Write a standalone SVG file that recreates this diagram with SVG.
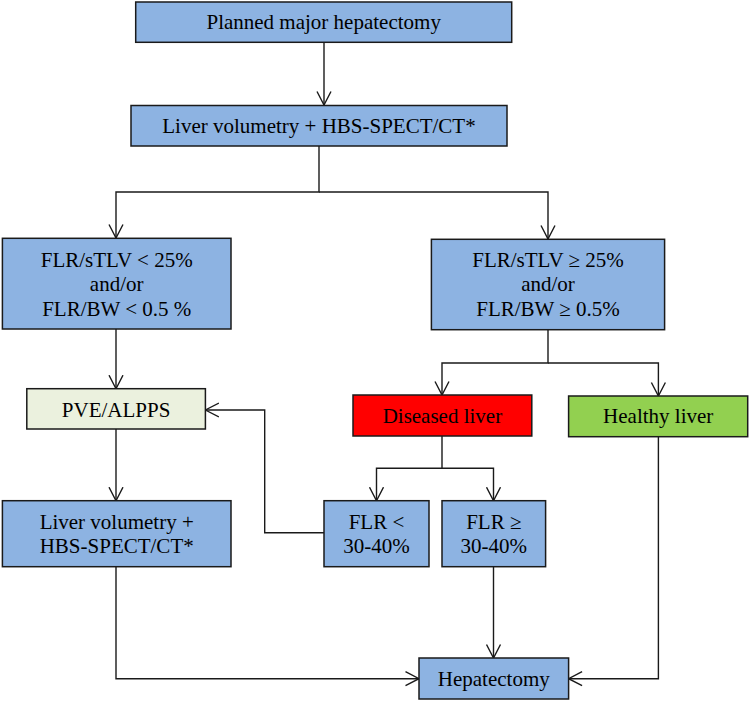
<svg xmlns="http://www.w3.org/2000/svg" width="749" height="701" viewBox="0 0 749 701">
<defs>
<style>
.box{stroke:#1a1a1a;stroke-width:1.5}
.blue{fill:#8DB3E2}
.pale{fill:#EBF1DE}
.red{fill:#FF0000}
.green{fill:#92D050}
text{font-family:"Liberation Serif","Times New Roman",serif;font-size:21px;fill:#000;text-anchor:middle}
.conn path{fill:none;stroke:#1a1a1a;stroke-width:1.4}
</style>
<marker id="arr" markerUnits="userSpaceOnUse" viewBox="0 0 15 16" refX="14" refY="8" markerWidth="15" markerHeight="16" orient="auto">
<path d="M0.5,1 L14,8 L0.5,15" fill="none" stroke="#1a1a1a" stroke-width="1.4"/>
</marker>
</defs>
<rect width="749" height="701" fill="#fff"/>
<g class="conn" id="connectors">
<path d="M324,42.3 V105" marker-end="url(#arr)"/>
<path d="M319,146 V192 H116 V238" marker-end="url(#arr)"/>
<path d="M319,192 H548 V239" marker-end="url(#arr)"/>
<path d="M116,329 V388.7" marker-end="url(#arr)"/>
<path d="M548,330 V363 H442 V395" marker-end="url(#arr)"/>
<path d="M548,363 H658.4 V396" marker-end="url(#arr)"/>
<path d="M116,429 V500.7" marker-end="url(#arr)"/>
<path d="M442,436 V468.3 H376.5 V500.7" marker-end="url(#arr)"/>
<path d="M442,468.3 H493.5 V500.7" marker-end="url(#arr)"/>
<path d="M324,532.7 H264.7 V410 H205.4" marker-end="url(#arr)"/>
<path d="M116,566.7 V678.7 H419" marker-end="url(#arr)"/>
<path d="M493.5,566.7 V658" marker-end="url(#arr)"/>
<path d="M658.4,436.7 V678.7 H568.6" marker-end="url(#arr)"/>
</g>
<g id="planned">
<rect class="box blue" x="135.7" y="2" width="376" height="40.3"/>
<text x="323.7" y="29.3">Planned major hepatectomy</text>
</g>
<g id="volumetry1">
<rect class="box blue" x="131" y="105.5" width="376" height="40.5"/>
<text x="319" y="133">Liver volumetry + HBS-SPECT/CT*</text>
</g>
<g id="low">
<rect class="box blue" x="2.4" y="238.3" width="228.6" height="90.7"/>
<text x="116.7" y="266.5">FLR/sTLV &lt; 25%</text>
<text x="116.7" y="291">and/or</text>
<text x="116.7" y="315.5">FLR/BW &lt; 0.5 %</text>
</g>
<g id="high">
<rect class="box blue" x="431.4" y="239.3" width="233.2" height="90.4"/>
<text x="548" y="266.5">FLR/sTLV ≥ 25%</text>
<text x="548" y="291">and/or</text>
<text x="548" y="316">FLR/BW ≥ 0.5%</text>
</g>
<g id="pve">
<rect class="box pale" x="26.8" y="388.7" width="178.6" height="40.3"/>
<text x="116.1" y="416.5">PVE/ALPPS</text>
</g>
<g id="diseased">
<rect class="box red" x="353" y="395" width="178.8" height="41"/>
<text x="442.4" y="423">Diseased liver</text>
</g>
<g id="healthy">
<rect class="box green" x="568.6" y="396" width="179.1" height="40.7"/>
<text x="658.2" y="423.3">Healthy liver</text>
</g>
<g id="volumetry2">
<rect class="box blue" x="2.4" y="500.7" width="228.6" height="66"/>
<text x="116.7" y="528.5">Liver volumetry +</text>
<text x="116.7" y="552.7">HBS-SPECT/CT*</text>
</g>
<g id="flrlow">
<rect class="box blue" x="324" y="500.7" width="105" height="66"/>
<text x="376.5" y="528.5">FLR &lt;</text>
<text x="376.5" y="552.7">30-40%</text>
</g>
<g id="flrhigh">
<rect class="box blue" x="442" y="500.7" width="103.6" height="66"/>
<text x="493.8" y="528.5">FLR ≥</text>
<text x="493.8" y="552.7">30-40%</text>
</g>
<g id="hepatectomy">
<rect class="box blue" x="419" y="658" width="149.6" height="41"/>
<text x="493.8" y="686.3">Hepatectomy</text>
</g>
</svg>
